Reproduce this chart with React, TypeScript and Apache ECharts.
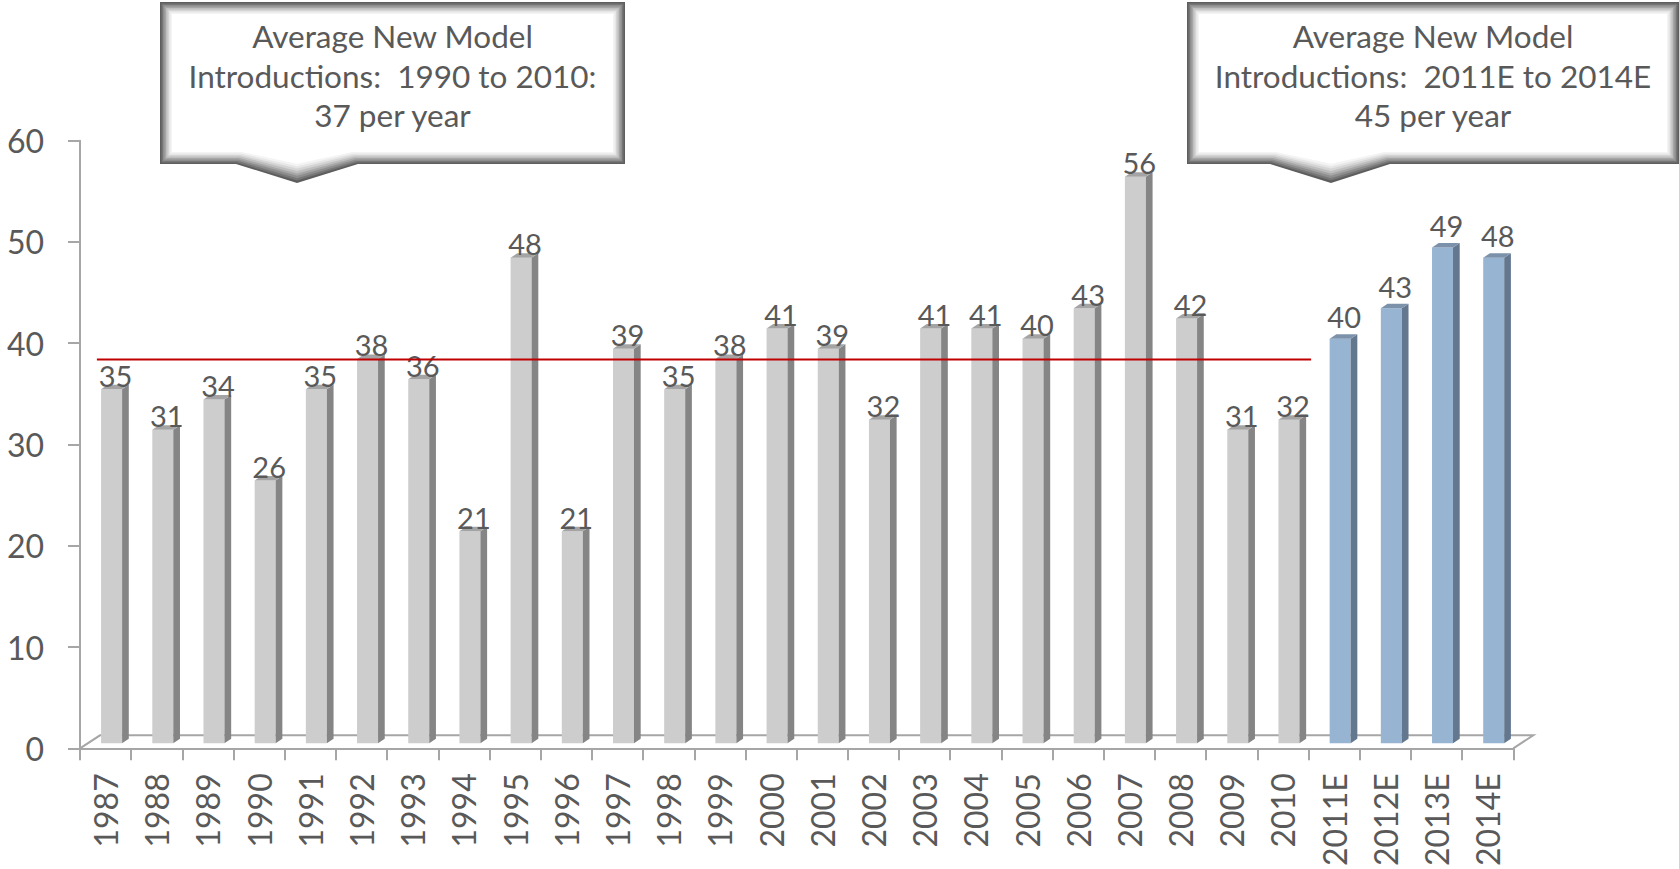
import React, { useEffect, useRef } from "react";
import * as echarts from "echarts";

const categories = [
  "1987", "1988", "1989", "1990", "1991", "1992", "1993", "1994", "1995", "1996",
  "1997", "1998", "1999", "2000", "2001", "2002", "2003", "2004", "2005", "2006",
  "2007", "2008", "2009", "2010", "2011E", "2012E", "2013E", "2014E",
];
const historicValues = [35, 31, 34, 26, 35, 38, 36, 21, 48, 21, 39, 35, 38, 41, 39, 32, 41, 41, 40, 43, 56, 42, 31, 32];
const estimateValues = [40, 43, 49, 48];
const yTicks = { min: 0, max: 60, interval: 10 };
const avgLineValue = 38.4;
const avgLineSpan = [0.33, 24.05];
const callout1 = ["Average New Model", "Introductions:  1990 to 2010:", "37 per year"];
const callout2 = ["Average New Model", "Introductions:  2011E to 2014E", "45 per year"];

const FONT = "Lato, 'Open Sans', sans-serif";
const TEXT = "#595959";
const AXIS = "#A6A6A6";

const G_LEFT = 80;
const G_RIGHT_X = 1513.3;
const G_TOP = 140.7;
const G_BOTTOM_Y = 748.3;

function calloutShape(x0: number, x1: number, y0: number, y1: number, sl: number, tip: number, sr: number, tipY: number, cx: number, lines: string[]) {
  const layers = [
    ["#5e5e5e", 0], ["#767676", 1.5], ["#8e8e8e", 3], ["#a6a6a6", 4.5],
    ["#bebebe", 6], ["#d4d4d4", 7.5], ["#e6e6e6", 9], ["#f4f4f4", 10.5], ["#ffffff", 12],
  ] as [string, number][];
  const children: any[] = layers.map(([col, d]) => ({
    type: "polygon",
    shape: {
      points: [
        [x0 + d, y0 + d], [x1 - d, y0 + d], [x1 - d, y1 - d],
        [sr - d * 0.5, y1 - d], [tip, tipY - d * 1.6], [sl + d * 0.5, y1 - d],
        [x0 + d, y1 - d],
      ],
    },
    style: { fill: col },
  }));
  lines.forEach((t, k) => {
    children.push({
      type: "text",
      style: {
        text: t, x: cx, y: 36 + k * 39.5, align: "center", verticalAlign: "middle",
        fill: TEXT, fontSize: 31.5, fontFamily: FONT,
      },
    });
  });
  return { type: "group", children };
}

export default function App() {
  const ref = useRef<HTMLDivElement>(null);
  useEffect(() => {
    if (!ref.current) return;
    const chart = echarts.init(ref.current, undefined, { renderer: "svg" });
    const values = [...historicValues, ...estimateValues];
    const histCount = historicValues.length;
    const data = values.map((v, i) => [i, v]);

    const renderItem = (params: any, api: any) => {
      const i = api.value(0);
      const v = api.value(1);
      const top = api.coord([i, v]);
      const base = api.coord([i, 0]);
      const c = top[0];
      const xl = c - 4.5;
      const xr = c + 16.5;
      const dx = 6.7;
      const dy = 4.5;
      const yt = top[1] - 4.5;
      const yb = base[1] - 5;
      const est = i >= histCount;
      const front = est ? "#97B4D2" : "#CDCDCD";
      const side = est ? "#63788F" : "#858585";
      const topC = est ? "#7C92AB" : "#A4A4A4";
      return {
        type: "group",
        children: [
          { type: "rect", shape: { x: xl, y: yt, width: xr - xl, height: yb - yt }, style: { fill: front } },
          {
            type: "polygon",
            shape: { points: [[xr, yt], [xr + dx, yt - dy], [xr + dx, yb - dy], [xr, yb]] },
            style: { fill: side },
          },
          {
            type: "polygon",
            shape: { points: [[xl, yt], [xl + dx, yt - dy], [xr + dx, yt - dy], [xr, yt]] },
            style: { fill: topC },
          },
          {
            type: "text",
            style: {
              text: String(v), x: c + 10, y: yt - (est ? 22 : 14), align: "center", verticalAlign: "middle",
              fill: TEXT, fontSize: 29, fontFamily: FONT,
            },
            z2: 10,
          },
        ],
      };
    };

    chart.setOption({
      animation: false,
      backgroundColor: "#ffffff",
      grid: { left: G_LEFT, right: 1679 - G_RIGHT_X, top: G_TOP, bottom: 869 - G_BOTTOM_Y },
      xAxis: [
        {
          type: "category",
          data: categories,
          boundaryGap: true,
          axisLine: { lineStyle: { color: AXIS, width: 2 } },
          axisTick: { show: true, length: 12, lineStyle: { color: AXIS, width: 2 } },
          axisLabel: { rotate: 90, interval: 0, margin: 25, fontSize: 32, color: TEXT, fontFamily: FONT },
          splitLine: { show: false },
        },
        { type: "value", min: 0, max: categories.length, show: false },
      ],
      yAxis: {
        type: "value",
        min: yTicks.min,
        max: yTicks.max,
        interval: yTicks.interval,
        axisLine: { show: true, lineStyle: { color: AXIS, width: 2 } },
        axisTick: { show: true, length: 12, lineStyle: { color: AXIS, width: 2 } },
        axisLabel: { margin: 36, fontSize: 32, color: TEXT, fontFamily: FONT },
        splitLine: { show: false },
      },
      graphic: [
        {
          type: "polyline",
          shape: { points: [[G_LEFT, G_BOTTOM_Y], [G_LEFT + 20, G_BOTTOM_Y - 13], [G_RIGHT_X + 20, G_BOTTOM_Y - 13], [G_RIGHT_X, G_BOTTOM_Y]] },
          style: { stroke: AXIS, lineWidth: 2, fill: "none" },
          z: -1,
        },
        calloutShape(160, 625, 2, 164, 236, 297, 358, 183, 392.5, callout1),
        calloutShape(1187, 1679, 2, 164, 1270, 1331, 1390, 183, 1433, callout2),
      ],
      series: [
        {
          type: "custom",
          xAxisIndex: 0,
          yAxisIndex: 0,
          renderItem,
          data,
          encode: { x: 0, y: 1 },
          z: 3,
        },
        {
          type: "line",
          xAxisIndex: 1,
          yAxisIndex: 0,
          data: [[avgLineSpan[0], avgLineValue], [avgLineSpan[1], avgLineValue]],
          symbol: "none",
          lineStyle: { color: "#C00000", width: 2 },
          z: 4,
        },
      ],
    });
    return () => chart.dispose();
  }, []);
  return <div ref={ref} style={{ position: "fixed", left: 0, top: 0, width: "1679px", height: "869px" }} />;
}
